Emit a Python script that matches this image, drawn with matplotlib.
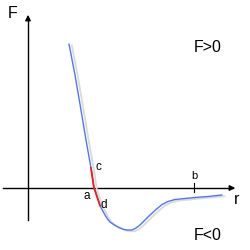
import matplotlib
matplotlib.use("Agg")
import matplotlib.pyplot as plt

plt.rcParams["font.family"] = ["Liberation Sans", "DejaVu Sans"]

# curva fuerza-distancia (r, F)
r_vals = [4.1, 4.4, 4.7, 5.0, 5.3, 5.55, 5.8, 6.05, 6.3, 6.45, 6.6, 6.75, 6.9, 7.05, 7.2,
          7.45, 7.7, 7.95, 8.2, 8.7, 9.2, 9.6, 9.9, 10.4, 10.8, 11.2, 11.7, 12.2, 12.8,
          13.4, 14.0, 14.7, 15.7, 16.7, 18.0, 19.4]
F_vals = [14.4, 12.85, 11.3, 9.55, 7.8, 6.3, 4.8, 3.4, 2.0, 1.0, 0.0, -0.4, -0.85, -1.3, -1.75,
          -2.25, -2.7, -3.1, -3.4, -3.75, -4.0, -4.15, -4.2, -4.2, -4.0, -3.7, -3.2, -2.7, -2.15,
          -1.65, -1.35, -1.15, -1.05, -0.95, -0.85, -0.7]
red_from, red_to = 8, 14   # tramo c-d

b_pos = 16.6
labels_pts = {"c": (7.0, 2.1), "a": (5.9, -0.8), "d": (7.6, -1.7)}

fig = plt.figure(figsize=(2.5, 2.5), dpi=100)
ax = fig.add_axes([0, 0, 1, 1])
ax.set_xlim(-2.8, 22.2)
ax.set_ylim(-6.2, 18.8)
ax.axis("off")

# ejes con flecha
ax.plot([-2.5, 20.5], [0, 0], color="black", lw=1.0)
ax.annotate("", xy=(21.0, 0), xytext=(20.0, 0),
            arrowprops=dict(arrowstyle="-|>", color="black", lw=1.0, mutation_scale=8))
ax.plot([0, 0], [-3.2, 17.0], color="black", lw=1.0)
ax.annotate("", xy=(0, 17.6), xytext=(0, 16.6),
            arrowprops=dict(arrowstyle="-|>", color="black", lw=1.0, mutation_scale=8))

# sombra gris + curva azul + tramo rojo
ax.plot([r + 0.28 for r in r_vals], [f - 0.12 for f in F_vals], color="#dadada", lw=1.3,
        solid_capstyle="round")
ax.plot(r_vals, F_vals, color="#4f76f2", lw=1.0, solid_capstyle="round")
ax.plot(r_vals[red_from:red_to + 1], F_vals[red_from:red_to + 1], color="#e8211b", lw=1.3)

# marca b
ax.plot([b_pos, b_pos], [-0.4, 0.5], color="black", lw=0.8)
ax.text(b_pos, 0.7, "b", fontsize=8, ha="center", va="bottom")

for name, (x, y) in labels_pts.items():
    ax.text(x, y, name, fontsize=8.5, ha="center", va="center")

ax.text(-1.5, 17.4, "F", fontsize=11.5, ha="center", va="center")
ax.text(20.9, -1.2, "r", fontsize=11.5, ha="center", va="center")
ax.text(18.0, 14.0, "F>0", fontsize=11.5, ha="center", va="center")
ax.text(18.0, -4.8, "F<0", fontsize=11.5, ha="center", va="center")

fig.savefig("out.png", dpi=100)
